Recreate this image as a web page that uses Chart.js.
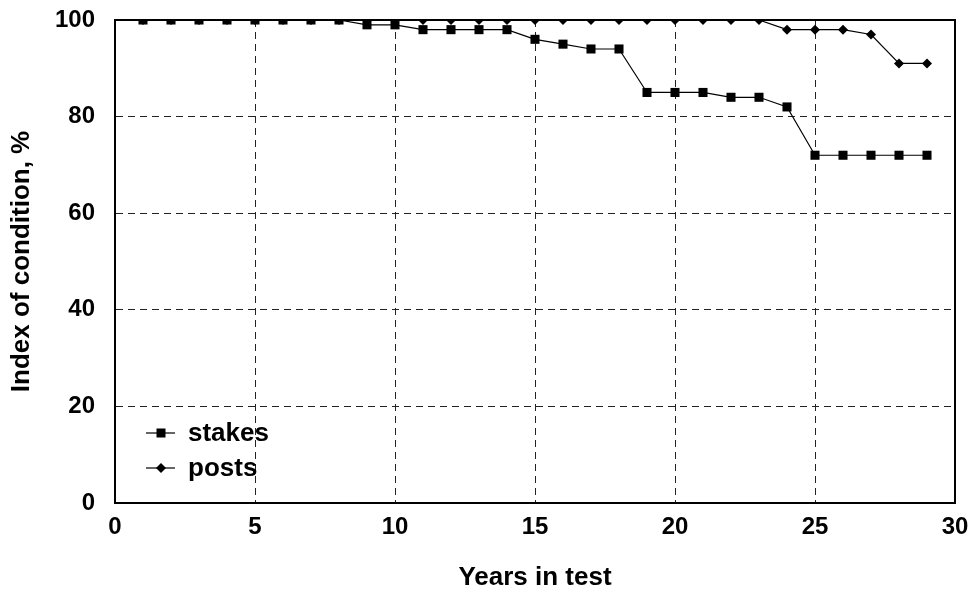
<!DOCTYPE html>
<html>
<head>
<meta charset="utf-8">
<script src="https://cdn.jsdelivr.net/npm/chart.js@4/dist/chart.umd.min.js"></script>
<style>
html,body{margin:0;padding:0;background:#fff;}
#wrap{width:973px;height:595px;}
</style>
</head>
<body>
<div id="wrap"><canvas id="c" width="973" height="595"></canvas></div>
<script>
const years = [1,2,3,4,5,6,7,8,9,10,11,12,13,14,15,16,17,18,19,20,21,22,23,24,25,26,27,28,29];
const stakes = [100,100,100,100,100,100,100,100,99,99,98,98,98,98,96,95,94,94,85,85,85,84,84,82,72,72,72,72,72];
const posts = [100,100,100,100,100,100,100,100,100,100,100,100,100,100,100,100,100,100,100,100,100,100,100,98,98,98,97,91,91];
const seriesNames = ['stakes','posts'];
const xTitle = 'Years in test';
const yTitle = 'Index of condition, %';

const FONT = '"Liberation Sans", Arial, sans-serif';

const framePlugin = {
  id: 'frame',
  afterDatasetsDraw(chart) {
    const {ctx, chartArea: a} = chart;
    ctx.save();
    ctx.strokeStyle = '#000';
    ctx.lineWidth = 2;
    ctx.setLineDash([]);
    ctx.strokeRect(a.left, a.top, a.right - a.left, a.bottom - a.top);
    ctx.restore();
  }
};

const legendPlugin = {
  id: 'insideLegend',
  afterDraw(chart) {
    const {ctx, chartArea: a} = chart;
    ctx.save();
    chart.data.datasets.forEach((ds, i) => {
      const y = a.bottom - 70 + i * 35;
      const x0 = a.left + 31;
      ctx.strokeStyle = '#000';
      ctx.lineWidth = 1.2;
      ctx.beginPath();
      ctx.moveTo(x0, y);
      ctx.lineTo(x0 + 29, y);
      ctx.stroke();
      ctx.fillStyle = '#000';
      const cx = x0 + 15;
      if (ds.pointStyle === 'rect') {
        ctx.fillRect(cx - 4.5, y - 4.5, 9, 9);
      } else {
        ctx.beginPath();
        ctx.moveTo(cx, y - 5);
        ctx.lineTo(cx + 5, y);
        ctx.lineTo(cx, y + 5);
        ctx.lineTo(cx - 5, y);
        ctx.closePath();
        ctx.fill();
      }
      ctx.font = 'bold 26px ' + FONT;
      ctx.textBaseline = 'middle';
      ctx.textAlign = 'left';
      ctx.fillText(ds.label, x0 + 42, y + 1);
    });
    ctx.restore();
  }
};

new Chart(document.getElementById('c'), {
  type: 'line',
  data: {
    datasets: [
      {
        label: seriesNames[0],
        data: years.map((x, i) => ({x: x, y: stakes[i]})),
        borderColor: '#000', backgroundColor: '#000', borderWidth: 1.2,
        pointStyle: 'rect', pointRadius: 6.4, pointBorderWidth: 0,
        tension: 0, clip: 0
      },
      {
        label: seriesNames[1],
        data: years.map((x, i) => ({x: x, y: posts[i]})),
        borderColor: '#000', backgroundColor: '#000', borderWidth: 1.2,
        pointStyle: 'rectRot', pointRadius: 5, pointBorderWidth: 0,
        tension: 0, clip: 0
      }
    ]
  },
  options: {
    responsive: false,
    animation: false,
    layout: {padding: {top: 20, right: 18, left: 0, bottom: 0}},
    plugins: {legend: {display: false}, tooltip: {enabled: false}},
    scales: {
      x: {
        type: 'linear', min: 0, max: 30,
        ticks: {stepSize: 5, color: '#000', font: {family: FONT, size: 24, weight: 'bold'}, padding: 10},
        grid: {color: '#222', lineWidth: 1, drawTicks: false, tickLength: 0},
        border: {display: true, color: '#000', width: 2, dash: [7, 5]},
        title: {display: true, text: xTitle, color: '#000', font: {family: FONT, size: 26, weight: 'bold'}, padding: {top: 0, bottom: 2}},
        afterFit(s) { s.height = 92; s.paddingLeft = 0; s.paddingRight = 0; }
      },
      y: {
        min: 0, max: 100,
        ticks: {stepSize: 20, color: '#000', font: {family: FONT, size: 24, weight: 'bold'}, padding: 20},
        grid: {color: '#222', lineWidth: 1, drawTicks: false, tickLength: 0},
        border: {display: true, color: '#000', width: 2, dash: [7, 5]},
        title: {display: true, text: yTitle, color: '#000', font: {family: FONT, size: 26, weight: 'bold'}, padding: {top: 6, bottom: 0}},
        afterFit(s) { s.width = 115; s.paddingTop = 0; s.paddingBottom = 0; }
      }
    }
  },
  plugins: [framePlugin, legendPlugin]
});
</script>
</body>
</html>
